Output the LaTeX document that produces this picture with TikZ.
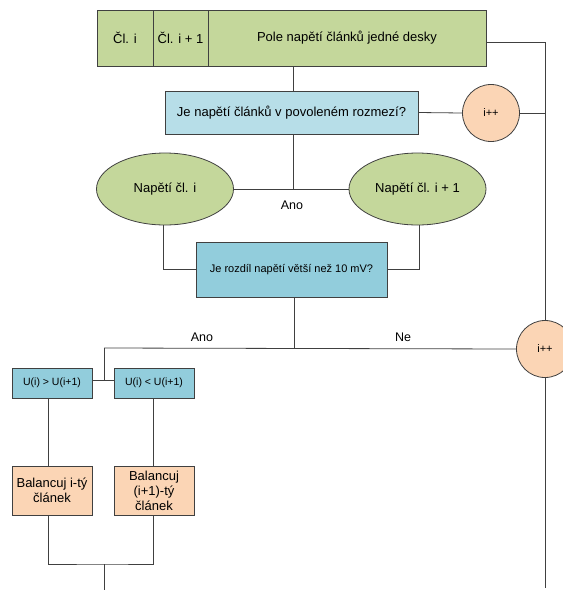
\documentclass[tikz,border=0pt]{standalone}
\usepackage{fontspec}
\setmainfont{Liberation Sans}
\usetikzlibrary{shapes.geometric}
\definecolor{grn}{HTML}{C4D79B}
\definecolor{lblue}{HTML}{B7DEE8}
\definecolor{dblue}{HTML}{92CDDC}
\definecolor{orng}{HTML}{FBD5B5}
\definecolor{ln}{HTML}{404040}
\tikzset{
  base/.style={draw=ln, line width=0.8pt, inner sep=1pt, align=center, text=black},
  cell/.style={base, fill=grn, minimum height=56pt, font=\fontsize{13}{15}\selectfont},
  qbox/.style={base, fill=lblue, font=\fontsize{13}{15}\selectfont},
  qbox2/.style={base, fill=dblue, font=\fontsize{11}{13}\selectfont},
  sbox/.style={base, fill=dblue, font=\fontsize{10.5}{12}\selectfont, minimum width=80pt, minimum height=30pt},
  ell/.style={base, ellipse, fill=grn, minimum width=137pt, minimum height=72pt, font=\fontsize{13}{15}\selectfont},
  inc/.style={base, circle, fill=orng, minimum size=57pt, font=\fontsize{11}{13}\selectfont},
  act/.style={base, fill=orng, minimum width=80pt, minimum height=49pt, font=\fontsize{13}{15}\selectfont},
  conn/.style={draw=ln, line width=0.8pt},
  lab/.style={font=\fontsize{12.5}{14}\selectfont, inner sep=0pt}
}
\begin{document}
\begin{tikzpicture}[x=1pt,y=-1pt]
\useasboundingbox (0,0) rectangle (563,590);
% top cells
\node[cell, minimum width=56pt] (c1) at (125,38) {Čl. i};
\node[cell, minimum width=55pt] (c2) at (180.5,38) {Čl. i + 1};
\node[cell, minimum width=278pt] (c3) at (347,38) {Pole napětí článků jedné desky};
% first question
\node[qbox, minimum width=253pt, minimum height=43pt] (b1) at (291.5,112.5) {Je napětí článků v povoleném rozmezí?};
\node[inc] (p1) at (491,113) {i++};
% ellipses
\node[ell] (e1) at (165,189) {Napětí čl. i};
\node[ell] (e2) at (417.5,189) {Napětí čl. i + 1};
% second question
\node[qbox2, minimum width=191pt, minimum height=55pt] (b2) at (291.5,269.5) {Je rozdíl napětí větší než 10 mV?};
\node[inc] (p2) at (545,349) {i++};
% comparisons
\node[sbox] (sA) at (52,383) {U(i) > U(i+1)};
\node[sbox] (sB) at (154,383) {U(i) < U(i+1)};
% actions
\node[act] (oA) at (52,490.5) {Balancuj i-tý\\článek};
\node[act] (oB) at (154,490.5) {Balancuj\\(i+1)-tý\\článek};
% coordinates
\coordinate (tr) at (545,42);
\coordinate (j1) at (293,189);
\coordinate (j2) at (294,348);
\coordinate (j3) at (104,348);
\coordinate (j4) at (104,380);
\coordinate (j5) at (104,564);
\coordinate (endL) at (104,590);
\coordinate (endR) at (545,588);
% connectors
\draw[conn] (c3.south -| j1) -- (b1.north -| j1);
\draw[conn] (c3.east |- tr) -- (tr) -- (p2.north);
\draw[conn] (b1.east) -- (p1.west);
\draw[conn] (p1.east) -- (p1.east -| tr);
\draw[conn] (b1.south -| j1) -- (j1);
\draw[conn] (e1.east) -- (e2.west);
\draw[conn] ([xshift=-2pt]e1.south) |- (b2.west);
\draw[conn] ([xshift=2pt]e2.south) |- (b2.east);
\draw[conn] (b2.south -| j2) -- (j2);
\draw[conn] (j3) -- (p2.west);
\draw[conn] (j3) -- (j4);
\draw[conn] (sA.east |- j4) -- (sB.west |- j4);
\draw[conn] ([xshift=-4pt]sA.south) -- ([xshift=-4pt]oA.north);
\draw[conn] ([xshift=-1pt]sB.south) -- ([xshift=-1pt]oB.north);
\draw[conn] ([xshift=-4pt]oA.south) |- (j5) -| ([xshift=-1pt]oB.south);
\draw[conn] (j5) -- (endL);
\draw[conn] (p2.south) -- (endR);
% labels
\node[lab] (a1) at (292,205) {Ano};
\node[lab] (a2) at (202,337) {Ano};
\node[lab] (n2) at (403,337) {Ne};
\end{tikzpicture}
\end{document}
